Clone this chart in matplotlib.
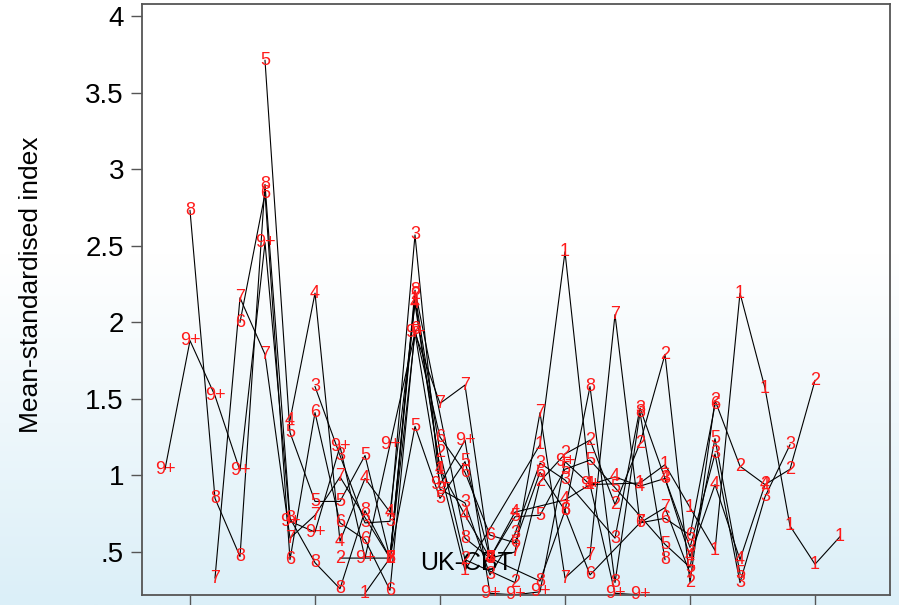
import numpy as np
import matplotlib.pyplot as plt
from matplotlib.colors import LinearSegmentedColormap

plt.rcParams['font.family'] = ['Liberation Sans', 'DejaVu Sans']

# x positions (ticks every 5, tick labels are cut off in the original)
x_vals = [4, 5, 6, 7, 8, 9, 10, 11, 12, 13, 14, 15, 16, 17,
          18, 19, 20, 21, 22, 23, 24, 25, 26, 27, 28, 29, 30, 31]

one = [None]*8 + [0.23, 0.46, 2.15, 1.04, 0.38, None, None, 1.20, 2.46, 0.94,
                  None, 0.95, 1.07, 0.79, 0.51, 2.19, 1.57, 0.67, 0.42, 0.60]
two = [None]*7 + [0.46, None, 0.46, 2.18, 1.15, 0.45, None, 0.30, 0.96, 1.14,
                  1.23, 0.81, 1.21, 1.79, 0.30, 1.49, 1.06, 0.94, 1.04, 1.62, None]
three = [None]*6 + [1.58, 1.13, 0.69, 0.70, 2.57, 0.91, 0.82, 0.35, 0.62, 1.08,
                    0.97, None, 0.59, 1.44, 0.98, 0.53, 1.14, 0.30, 0.86, 1.20, None, None]
four = [None]*5 + [1.36, 2.19, 0.57, 0.98, 0.76, 2.12, 1.04, 0.74, 0.46, 0.76, None,
                   0.84, 0.94, 0.99, 0.93, 0.98, 0.47, 0.94, 0.45, 0.94, None, None, None]
five = [None]*4 + [3.71, 1.28, 0.83, 0.83, 1.13, 0.46, 1.32, 0.85, 1.09, 0.46, 0.73,
                   0.74, 1.04, 1.10, 0.92, None, 0.55, 0.40, 1.24, 0.36] + [None]*4
six = [None]*3 + [2.00, 2.84, 0.45, 1.41, 0.69, 0.58, 0.25, 1.95, 1.25, 1.02, 0.61,
                  0.56, 1.02, 0.77, 0.35, None, 0.69, 0.72, 0.61, 1.46] + [None]*5
seven = [None]*2 + [0.33, 2.16, 1.79, 0.59, 0.74, 0.99, None, 0.46, 1.93, 1.47, 1.59,
                    0.46, 0.50, 1.41, 0.33, 0.48, 2.05, 0.69, 0.79, 0.36] + [None]*6
eight = [None] + [2.73, 0.85, 0.47, 2.90, 0.72, 0.43, 0.26, 0.77, 0.46, 2.21, None,
                  0.59, 0.46, None, 0.31, 0.77, 1.58, 0.30, 1.41, 0.45] + [None]*7
nine_plus = [1.04, 1.88, 1.52, 1.03, 2.52, 0.70, 0.63, 1.19, 0.46, 1.20, 1.93, 0.94,
             1.23, 0.23, 0.22, 0.24, 1.09, 0.94, 0.23, 0.22] + [None]*8

labels = ["1", "2", "3", "4", "5", "6", "7", "8", "9+"]
series = [one, two, three, four, five, six, seven, eight, nine_plus]

fig = plt.figure(figsize=(8.99, 6.05), dpi=100)

# light sky-blue gradient behind everything
bg = fig.add_axes([0, 0, 1, 1], zorder=-10)
grad = np.linspace(0, 1, 256).reshape(-1, 1)
cmap = LinearSegmentedColormap.from_list(
    "sky", [(0.0, "#ffffff"), (0.42, "#ffffff"), (0.7, "#eef7fb"), (1.0, "#dbeff8")])
bg.imshow(grad, aspect='auto', cmap=cmap, extent=[0, 1, 0, 1])
bg.axis('off')

ax = fig.add_axes([142/899, 1 - 595/605, (890 - 142)/899, (595 - 4)/605])
ax.patch.set_alpha(0)

for lab, vals in zip(labels, series):
    xs = [x for x, v in zip(x_vals, vals) if v is not None]
    ys = [v for v in vals if v is not None]
    ax.plot(xs, ys, color='black', linewidth=0.8, zorder=2)
    for x, y in zip(xs, ys):
        ax.text(x, y, lab, color='#ff1a1a', fontsize=13, ha='center', va='center',
                zorder=3)

ax.text(14.2, 0.43, "UK-CBT", fontsize=18, color='black', ha='left', va='center',
        zorder=2.5)

ax.set_xlim(3.08, 33.0)
ax.set_ylim(0.219, 4.078)
ax.set_xticks([5, 10, 15, 20, 25, 30])
ax.set_xticklabels([])
ax.set_yticks([0.5, 1, 1.5, 2, 2.5, 3, 3.5, 4])
ax.set_yticklabels([".5", "1", "1.5", "2", "2.5", "3", "3.5", "4"])
ax.tick_params(axis='both', direction='out', length=8, width=1, color='#555555',
               labelsize=20, pad=5)
for s in ax.spines.values():
    s.set_color('#555555')
    s.set_linewidth(1.3)
ax.set_ylabel("Mean-standardised index", fontsize=19)
ax.yaxis.set_label_coords(-0.132, 0.525)

fig.savefig("out.png", dpi=100)
